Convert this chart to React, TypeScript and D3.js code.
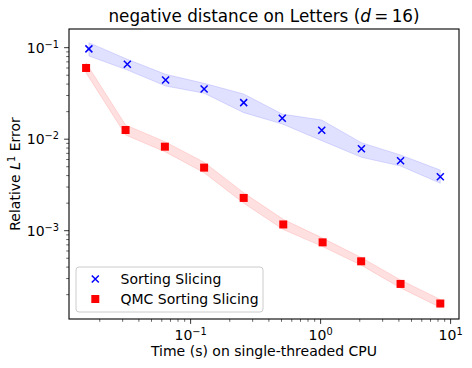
import React from 'react';
import * as d3 from 'd3';

// time (s) and relative L1 error
const sortTime = [0.0165, 0.0326, 0.0642, 0.127, 0.256, 0.507, 1.02, 2.06, 4.12, 8.33];
const sortErr = [0.097, 0.0658, 0.0444, 0.0354, 0.0251, 0.0169, 0.0125, 0.00787, 0.00582, 0.00389];
const sortLow = [0.0812, 0.057, 0.0381, 0.0318, 0.0195, 0.01466, 0.00964, 0.00634, 0.00509, 0.0033];
const sortHigh = [0.1135, 0.0747, 0.0512, 0.0408, 0.0312, 0.0188, 0.0162, 0.00916, 0.00672, 0.0046];

const qmcTime = [0.0157, 0.0316, 0.0634, 0.127, 0.256, 0.516, 1.036, 2.05, 4.12, 8.33];
const qmcErr = [0.06, 0.0126, 0.00828, 0.00489, 0.00228, 0.00117, 0.000746, 0.000463, 0.000262, 0.00016];
const qmcLow = [0.053, 0.0111, 0.0073, 0.0043, 0.002, 0.00103, 0.00067, 0.00042, 0.000237, 0.000145];
const qmcHigh = [0.068, 0.0143, 0.0094, 0.0056, 0.0026, 0.00133, 0.00083, 0.00051, 0.00029, 0.000177];

const xMajor = [0.1, 1, 10];
const yMajor = [0.1, 0.01, 0.001];
const xExp = ['\u22121', '0', '1'];
const yExp = ['\u22121', '\u22122', '\u22123'];

const legendLabels = ['Sorting Slicing', 'QMC Sorting Slicing'];

const W = 472;
const H = 368;
const left = 69;
const right = 459;
const top = 29;
const bottom = 319;
const font = 'DejaVu Sans, sans-serif';
const fs = 14;
const sup = 9.8;

const App = () => {
  const x = d3.scaleLog().domain([0.0116, 11.6]).range([left, right]);
  const y = d3.scaleLog().domain([1.084e-4, 0.16]).range([bottom, top]);

  const isMajor = (v: number) => Math.abs(Math.log10(v) - Math.round(Math.log10(v))) < 1e-6;
  const xMinor = x.ticks().filter((v) => !isMajor(v));
  const yMinor = y.ticks().filter((v) => !isMajor(v));

  // band between low and high
  const band = (t: number[], lo: number[], hi: number[]) =>
    d3
      .area<number>()
      .x((_, i) => x(t[i]))
      .y0((_, i) => y(lo[i]))
      .y1((_, i) => y(hi[i]))(t.map((_, i) => i)) || '';

  const cross = (cx: number, cy: number, k: string | number) => (
    <path
      key={k}
      d={`M${cx - 3.5},${cy - 3.5}L${cx + 3.5},${cy + 3.5}M${cx - 3.5},${cy + 3.5}L${cx + 3.5},${cy - 3.5}`}
      stroke="#0000ff"
      strokeWidth={1.5}
    />
  );
  const square = (cx: number, cy: number, k: string | number) => (
    <rect key={k} x={cx - 4} y={cy - 4} width={8} height={8} fill="#ff0000" />
  );

  return (
    <svg width={W} height={H} style={{ position: 'absolute', left: 0, top: 0, background: '#fff' }} fontFamily={font}>
      <rect x={0} y={0} width={W} height={H} fill="#fff" />
      <defs>
        <clipPath id="plot">
          <rect x={left} y={top} width={right - left} height={bottom - top} />
        </clipPath>
      </defs>

      <g clipPath="url(#plot)">
        <path d={band(sortTime, sortLow, sortHigh)} fill="#0000ff" fillOpacity={0.12} stroke="#0000ff" strokeOpacity={0.12} strokeWidth={1} />
        <path d={band(qmcTime, qmcLow, qmcHigh)} fill="#ff0000" fillOpacity={0.12} stroke="#ff0000" strokeOpacity={0.12} strokeWidth={1} />
        {sortTime.map((t, i) => cross(x(t), y(sortErr[i]), 's' + i))}
        {qmcTime.map((t, i) => square(x(t), y(qmcErr[i]), 'q' + i))}
      </g>

      {/* ticks */}
      <g stroke="#000" strokeWidth={0.8}>
        {xMajor.map((v) => (
          <line key={'xM' + v} x1={x(v)} x2={x(v)} y1={bottom} y2={bottom + 4.9} />
        ))}
        {xMinor.map((v) => (
          <line key={'xm' + v} x1={x(v)} x2={x(v)} y1={bottom} y2={bottom + 2.8} strokeWidth={0.6} />
        ))}
        {yMajor.map((v) => (
          <line key={'yM' + v} x1={left} x2={left - 4.9} y1={y(v)} y2={y(v)} />
        ))}
        {yMinor.map((v) => (
          <line key={'ym' + v} x1={left} x2={left - 2.8} y1={y(v)} y2={y(v)} strokeWidth={0.6} />
        ))}
      </g>

      <g fontSize={fs} fill="#000">
        {xMajor.map((v, i) => (
          <text key={'xl' + v} x={x(v)} y={bottom + 21} textAnchor="middle">
            10<tspan fontSize={sup} dy={-5}>{xExp[i]}</tspan>
          </text>
        ))}
        {yMajor.map((v, i) => (
          <text key={'yl' + v} x={left - 10} y={y(v) + 5} textAnchor="end">
            10<tspan fontSize={sup} dy={-5}>{yExp[i]}</tspan>
          </text>
        ))}
      </g>

      <rect x={left} y={top} width={right - left} height={bottom - top} fill="none" stroke="#000" strokeWidth={1.1} />

      {/* legend */}
      <rect x={76} y={267} width={187} height={45} rx={3} fill="#fff" fillOpacity={0.8} stroke="#cccccc" strokeWidth={1} />
      {cross(95.3, 279, 'lg0')}
      {square(95.3, 299, 'lg1')}
      <text x={120.5} y={284} fontSize={fs}>{legendLabels[0]}</text>
      <text x={120.5} y={304} fontSize={fs}>{legendLabels[1]}</text>

      {/* title and labels */}
      <text x={(left + right) / 2} y={22} textAnchor="middle" fontSize={16.8}>
        negative distance on Letters (<tspan fontStyle="italic">d</tspan>{'\u2009=\u200916)'}
      </text>
      <text x={(left + right) / 2} y={356} textAnchor="middle" fontSize={fs}>
        Time (s) on single-threaded CPU
      </text>
      <text transform={`translate(20, ${(top + bottom) / 2}) rotate(-90)`} textAnchor="middle" fontSize={fs}>
        Relative <tspan fontStyle="italic">L</tspan>
        <tspan fontSize={sup} dy={-5}>1</tspan>
        <tspan dy={5}> Error</tspan>
      </text>
    </svg>
  );
};

export default App;
